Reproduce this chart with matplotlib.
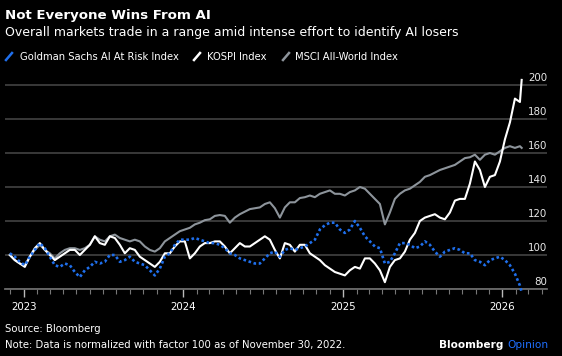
import numpy as np
import pandas as pd
import matplotlib.pyplot as plt
import matplotlib.dates as mdates
from matplotlib.lines import Line2D

plt.rcParams['font.family'] = ['DejaVu Sans']

# Dates: roughly every 11.5 days from Nov 30, 2022, last point mid Feb 2026
dates = list(pd.date_range('2022-11-30', '2026-02-10', periods=103)) + [pd.Timestamp('2026-02-14')]

# Normalized values (100 = Nov 30, 2022)
kospi = [100, 97, 95, 93, 99, 104, 107, 103, 100, 97,
         99, 101, 103, 103, 100, 103, 106, 111, 107, 106,
         111, 110, 106, 101, 104, 103, 99, 97, 95, 93,
         96, 101, 101, 105, 108, 108, 98, 101, 105, 107,
         107, 108, 108, 105, 101, 104, 107, 105, 105, 107,
         109, 111, 109, 103, 98, 107, 106, 102, 106, 106,
         101, 99, 97, 94, 92, 90, 89, 88, 91, 93,
         92, 98, 98, 95, 91, 84, 93, 97, 98, 102,
         109, 113, 120, 122, 123, 124, 122, 121, 125, 132,
         133, 133, 142, 155, 150, 140, 146, 147, 155, 168,
         178, 192, 190, 203]

msci = [100, 97, 95, 94, 99, 103, 106, 103, 101, 98,
        101, 103, 104, 104, 103, 104, 106, 111, 109, 108,
        111, 112, 110, 109, 108, 109, 108, 105, 103, 102,
        104, 108, 110, 112, 114, 115, 116, 118, 119, 120.5,
        121, 123, 123.5, 123, 119, 122, 124, 125.5, 127, 127.5,
        128, 130, 131, 127.5, 122, 128, 131, 131, 133.5, 134,
        135, 134, 136, 137, 138, 136, 136, 135, 137, 138,
        140, 139, 136, 133, 130, 118, 125, 133, 136, 138,
        139, 141, 143, 146, 147, 148.5, 150, 151, 152, 153,
        155, 157, 157.5, 159, 156, 159, 160, 159, 161, 163,
        164, 163, 164, 163]

ai_risk = [101, 99, 96, 94, 99, 103, 107, 104, 99, 94,
           93, 95, 94, 90, 87, 91, 93, 96, 95, 96,
           100, 100, 96, 97, 99, 96, 95, 94, 91, 88,
           92, 99, 101, 106, 109, 109, 109, 110, 109, 108,
           107, 107, 106, 104, 101, 100, 98, 97, 96, 95,
           95, 98, 101, 102, 99, 103, 104, 103, 104, 105,
           107, 109, 115, 117.5, 119, 119, 115, 113, 115, 120,
           116, 111, 108, 105, 104, 95, 96, 101, 107, 107,
           106, 104, 105, 108, 106, 102, 99, 102, 103, 104,
           103, 101, 101, 97, 96, 94, 97, 98, 99, 97,
           94, 89, 82, 78]

y_ticks = [80, 100, 120, 140, 160, 180, 200]
series_names = ['Goldman Sachs AI At Risk Index', 'KOSPI Index', 'MSCI All-World Index']

BLUE = '#1f6fec'
WHITE = '#ffffff'
GREY = '#8d949b'

fig = plt.figure(figsize=(5.62, 3.56), dpi=100, facecolor='black')
W, H = 562, 356

def fx(px):
    return px / W

def fy(py):
    return 1 - py / H

ax = fig.add_axes([fx(5), fy(289), 542 / W, 219 / H])
ax.set_facecolor('black')

ax.plot(dates, msci, color=GREY, lw=1.5, zorder=3)
ax.plot(dates, kospi, color=WHITE, lw=1.5, zorder=4)
ax.plot(dates, ai_risk, color=BLUE, lw=1.9, linestyle=(0, (1, 1)), zorder=5, clip_on=False)

ax.set_ylim(80, 80 + 219 / 1.7)
ax.set_xlim(pd.Timestamp('2022-11-19'), pd.Timestamp('2026-04-13'))

# horizontal gridlines, labels sit on top of the line at the right edge
ax.set_yticks(y_ticks)
ax.yaxis.grid(True, color='#3d3d3d', lw=1.3)
ax.tick_params(axis='y', length=0, labelleft=False)
for v in y_ticks:
    ax.text(1.0, v + 1.2, str(v), transform=ax.get_yaxis_transform(), ha='right', va='bottom',
            color='#e8e8e8', fontsize=7.4, zorder=6)
ax.set_axisbelow(True)

for side in ['top', 'right', 'left']:
    ax.spines[side].set_visible(False)
ax.spines['bottom'].set_color('#6a6a6a')
ax.spines['bottom'].set_linewidth(1.3)

ax.xaxis.set_major_locator(mdates.YearLocator())
ax.xaxis.set_major_formatter(mdates.DateFormatter('%Y'))
ax.xaxis.set_minor_locator(mdates.MonthLocator())
ax.tick_params(axis='x', which='major', length=6, width=1, color='#bbbbbb', labelcolor='white',
               labelsize=7.4, pad=3)
ax.tick_params(axis='x', which='minor', length=3.5, width=0.8, color='#777777')

# title block
fig.text(fx(5), fy(19), 'Not Everyone Wins From AI', color='white', fontsize=9.6,
         fontweight='bold', va='baseline')
fig.text(fx(5), fy(36), 'Overall markets trade in a range amid intense effort to identify AI losers',
         color='white', fontsize=9.0, va='baseline')

# legend: slash icon + label
legend_pos = [(5, 20), (193, 207), (282, 295)]
for (icon_x, text_x), name, col in zip(legend_pos, series_names, [BLUE, WHITE, GREY]):
    fig.add_artist(Line2D([fx(icon_x + 1), fx(icon_x + 7)], [fy(60), fy(53)], color=col, lw=1.8))
    fig.text(fx(text_x), fy(60), name, color='white', fontsize=7.2, va='baseline')

# footer
fig.text(fx(5), fy(332), 'Source: Bloomberg', color='white', fontsize=7.3, va='baseline')
fig.text(fx(5), fy(348), 'Note: Data is normalized with factor 100 as of November 30, 2022.',
         color='white', fontsize=7.3, va='baseline')
fig.text(fx(548), fy(348), 'Opinion', color='#1f6fff', fontsize=7.6, va='baseline', ha='right')
fig.text(fx(503), fy(348), 'Bloomberg', color='white', fontsize=7.6, fontweight='bold',
         va='baseline', ha='right')

fig.savefig('out.png', dpi=100, facecolor='black')
